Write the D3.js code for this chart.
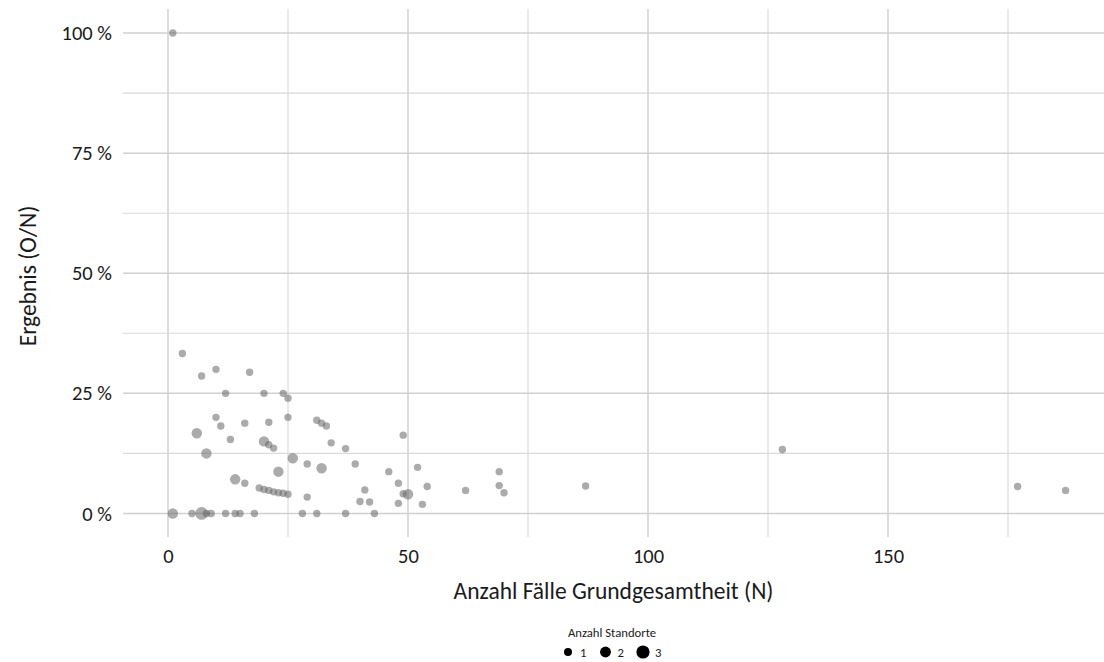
<!DOCTYPE html>
<html>
<head>
<meta charset="utf-8">
<script src="https://cdn.jsdelivr.net/npm/d3@7"></script>
<style>
  body { margin: 0; background: #fff; }
  text { font-family: Carlito, Calibri, Lato, sans-serif; fill: #1a1a1a; }
</style>
</head>
<body>
<div id="chart"></div>
<script>
var width = 1104;
var height = 662;

// Anzahl Fälle Grundgesamtheit (N)
var fallzahl = [1, 3, 7, 10, 17, 12, 20, 24, 25, 10, 11, 16, 21, 25, 31, 32, 33, 34,
    6, 13, 20, 21, 22, 8, 26, 29, 32, 23, 14, 16, 19, 20, 21, 22, 23, 24, 25, 29,
    37, 49, 39, 52, 46, 69, 48, 54, 62, 69, 70, 41, 49, 50, 40, 42, 48, 53,
    87, 128, 177, 187,
    1, 5, 7, 8, 9, 12, 14, 15, 18, 28, 31, 37, 43];
// Ergebnis (O/N) in %
var ergebnis = [100, 33.3, 28.6, 30, 29.4, 25, 25, 25, 24, 20, 18.2, 18.8, 19.0, 20, 19.4, 18.8, 18.2, 14.7,
    16.7, 15.4, 15, 14.3, 13.6, 12.5, 11.5, 10.3, 9.4, 8.7, 7.1, 6.3, 5.3, 5.0, 4.8, 4.5, 4.3, 4.2, 4.0, 3.4,
    13.5, 16.3, 10.3, 9.6, 8.7, 8.7, 6.3, 5.6, 4.8, 5.8, 4.3, 4.9, 4.1, 4.0, 2.5, 2.4, 2.1, 1.9,
    5.7, 13.3, 5.6, 4.8,
    0, 0, 0, 0, 0, 0, 0, 0, 0, 0, 0, 0, 0];
// Anzahl Standorte
var standorte = [1, 1, 1, 1, 1, 1, 1, 1, 1, 1, 1, 1, 1, 1, 1, 1, 1, 1,
    2, 1, 2, 1, 1, 2, 2, 1, 2, 2, 2, 1, 1, 1, 1, 1, 1, 1, 1, 1,
    1, 1, 1, 1, 1, 1, 1, 1, 1, 1, 1, 1, 1, 2, 1, 1, 1, 1,
    1, 1, 1, 1,
    2, 1, 3, 1, 1, 1, 1, 1, 1, 1, 1, 1, 1];

var xTicks = [0, 50, 100, 150];
var xMinor = [25, 75, 125, 175];
var yTicks = [0, 25, 50, 75, 100];
var yMinor = [12.5, 37.5, 62.5, 87.5];
var legendLevels = [1, 2, 3];

var data = fallzahl.map(function(n, i) {
    return { n: n, pct: ergebnis[i], size: standorte[i] };
});

var plotLeft = 123, plotRight = 1104, plotTop = 9, plotBottom = 537;

var xScale = d3.scaleLinear().domain([-9.375, 195]).range([plotLeft, plotRight]);
var yScale = d3.scaleLinear().domain([-4.9, 105]).range([plotBottom, plotTop]);
var rScale = d3.scaleSqrt().domain([1, 3]).range([3.7, 6.4]);

var svg = d3.select("#chart")
    .append("svg")
    .attr("width", width)
    .attr("height", height);

// grid
var grid = svg.append("g");
grid.selectAll(".vminor").data(xMinor).enter().append("line")
    .attr("x1", function(d) { return xScale(d); })
    .attr("x2", function(d) { return xScale(d); })
    .attr("y1", plotTop).attr("y2", plotBottom)
    .attr("stroke", "#d9d9d9").attr("stroke-width", 1.1);
grid.selectAll(".hminor").data(yMinor).enter().append("line")
    .attr("y1", function(d) { return yScale(d); })
    .attr("y2", function(d) { return yScale(d); })
    .attr("x1", plotLeft).attr("x2", plotRight)
    .attr("stroke", "#d9d9d9").attr("stroke-width", 1.1);
grid.selectAll(".vmajor").data(xTicks).enter().append("line")
    .attr("x1", function(d) { return xScale(d); })
    .attr("x2", function(d) { return xScale(d); })
    .attr("y1", plotTop).attr("y2", plotBottom)
    .attr("stroke", "#d0d0d0").attr("stroke-width", 1.5);
grid.selectAll(".hmajor").data(yTicks).enter().append("line")
    .attr("y1", function(d) { return yScale(d); })
    .attr("y2", function(d) { return yScale(d); })
    .attr("x1", plotLeft).attr("x2", plotRight)
    .attr("stroke", "#d0d0d0").attr("stroke-width", 1.5);

// axes (labels only)
var xAxis = d3.axisBottom(xScale).tickValues(xTicks).tickSize(0).tickPadding(11);
var yAxis = d3.axisLeft(yScale).tickValues(yTicks).tickSize(0).tickPadding(11)
    .tickFormat(function(d) { return d + " %"; });

svg.append("g")
    .attr("transform", "translate(0," + plotBottom + ")")
    .call(xAxis)
    .call(function(g) { g.select(".domain").remove(); })
    .selectAll("text")
    .style("font-size", "20.5px")
    .attr("fill", "#1a1a1a");

svg.append("g")
    .attr("transform", "translate(" + plotLeft + ",0)")
    .call(yAxis)
    .call(function(g) { g.select(".domain").remove(); })
    .selectAll("text")
    .style("font-size", "20.5px")
    .attr("fill", "#1a1a1a");

// points
svg.append("g").selectAll("circle")
    .data(data)
    .enter()
    .append("circle")
    .attr("cx", function(d) { return xScale(d.n); })
    .attr("cy", function(d) { return yScale(d.pct); })
    .attr("r", function(d) { return rScale(d.size); })
    .attr("fill", "#666666")
    .attr("fill-opacity", 0.55);

// axis titles
svg.append("text")
    .attr("x", (plotLeft + plotRight) / 2)
    .attr("y", 599)
    .style("text-anchor", "middle")
    .style("font-size", "23.5px")
    .text("Anzahl Fälle Grundgesamtheit (N)");

svg.append("text")
    .attr("transform", "translate(36,276) rotate(-90)")
    .style("text-anchor", "middle")
    .style("font-size", "23.5px")
    .text("Ergebnis (O/N)");

// legend
svg.append("text")
    .attr("x", 612)
    .attr("y", 637)
    .style("text-anchor", "middle")
    .style("font-size", "12.7px")
    .text("Anzahl Standorte");

var legendPos = d3.scalePoint().domain(legendLevels).range([568, 643]);
var legendR = d3.scaleSqrt().domain([1, 3]).range([4, 6.6]);
var legendG = svg.append("g");
legendG.selectAll("circle")
    .data(legendLevels)
    .enter()
    .append("circle")
    .attr("cx", function(d) { return legendPos(d); })
    .attr("cy", 652)
    .attr("r", function(d) { return legendR(d); })
    .attr("fill", "#000");
legendG.selectAll("text")
    .data(legendLevels)
    .enter()
    .append("text")
    .attr("x", function(d) { return legendPos(d) + 12; })
    .attr("y", 656.5)
    .style("font-size", "12.7px")
    .text(function(d) { return d; });
</script>
</body>
</html>
